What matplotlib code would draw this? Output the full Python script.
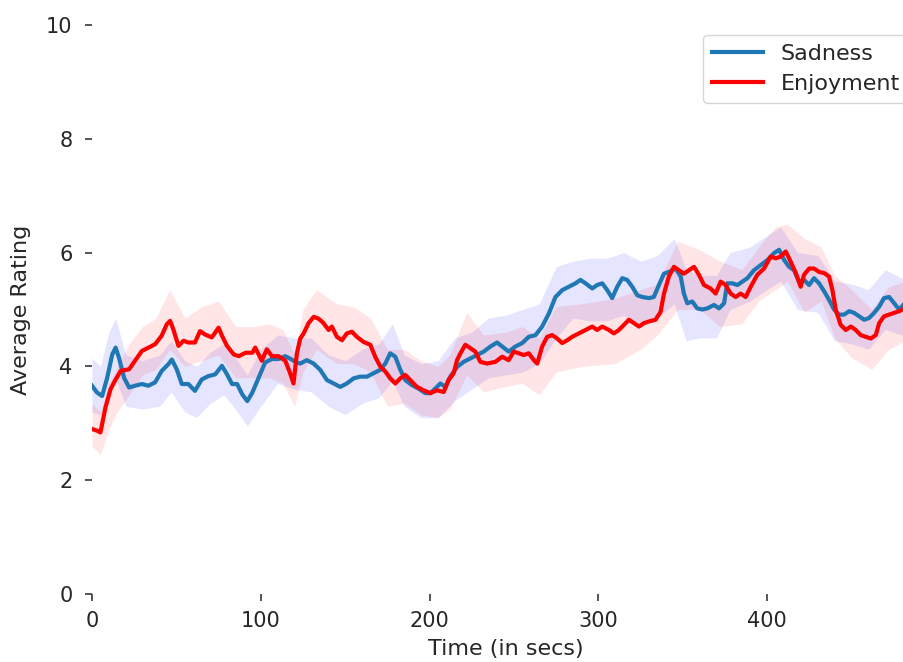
import matplotlib
matplotlib.use("Agg")
import matplotlib.pyplot as plt
import numpy as np

# ---------------- data ----------------
sad_t = [0, 3, 6, 9, 12, 14, 16, 19, 22, 25.5, 29.5, 33.4, 37.4, 41.3, 45.3, 47.3, 50.2, 53.2,
         57.1, 61, 65, 69, 73, 77, 80, 83, 86, 89, 92, 95, 98.7, 102.6, 106.6, 110.5, 114.5,
         118.4, 120.4, 123.4, 127.3, 131.3, 135.2, 139.2, 143.1, 147.1, 151, 155, 158.9, 162.9,
         166.9, 170.8, 173.8, 176.7, 179.7, 182.7, 185.6, 189.6, 193.5, 197.5, 200.5, 204.4,
         206.4, 209.3, 212.3, 216.3, 220.2, 224.2, 228.1, 232.1, 236.1, 240, 243, 246.9, 250.9,
         254.9, 258.8, 262.8, 266.7, 270.7, 274.6, 278.6, 282.5, 286.5, 289.4, 292.4, 296.4,
         299.3, 302.3, 305.3, 308.2, 311.2, 314.2, 317.1, 320.1, 323.1, 326, 330, 332.9, 335.9,
         338.9, 341.8, 345.8, 348.8, 350.7, 352.7, 355.7, 358.6, 361.6, 364.6, 368.5, 371.5,
         374.5, 376.4, 379.4, 382.4, 385.3, 388.3, 392.2, 396.2, 400.2, 404.1, 407.1, 410.1,
         413, 416, 418.9, 421.9, 424.9, 427.8, 430.8, 433.8, 436.7, 439.7, 442.7, 445.6, 448.6,
         451.6, 454.5, 457.5, 460.4, 463.4, 466.4, 469.3, 472.3, 475.3, 478.2, 481.6, 490]
sad_mean = [3.66, 3.54, 3.48, 3.80, 4.21, 4.33, 4.15, 3.80, 3.63, 3.66, 3.69, 3.66, 3.72, 3.92,
            4.04, 4.12, 3.95, 3.69, 3.69, 3.57, 3.77, 3.83, 3.86, 4.01, 3.86, 3.69, 3.69, 3.51,
            3.39, 3.54, 3.80, 4.07, 4.13, 4.13, 4.18, 4.12, 4.08, 4.05, 4.11, 4.05, 3.94, 3.76,
            3.70, 3.64, 3.70, 3.79, 3.82, 3.82, 3.88, 3.94, 4.05, 4.23, 4.17, 3.94, 3.76, 3.67,
            3.61, 3.53, 3.53, 3.64, 3.70, 3.64, 3.82, 3.99, 4.08, 4.14, 4.20, 4.26, 4.35, 4.42,
            4.35, 4.26, 4.35, 4.41, 4.52, 4.55, 4.70, 4.93, 5.22, 5.34, 5.40, 5.46, 5.52, 5.46,
            5.37, 5.43, 5.46, 5.34, 5.20, 5.40, 5.55, 5.52, 5.40, 5.25, 5.22, 5.20, 5.22, 5.43,
            5.63, 5.66, 5.72, 5.58, 5.28, 5.11, 5.14, 5.02, 5.00, 5.02, 5.08, 5.02, 5.11, 5.46,
            5.46, 5.43, 5.49, 5.55, 5.69, 5.78, 5.87, 5.99, 6.05, 5.87, 5.75, 5.69, 5.49, 5.52,
            5.43, 5.55, 5.46, 5.32, 5.17, 5.00, 4.91, 4.91, 4.97, 4.94, 4.88, 4.82, 4.85, 4.94,
            5.05, 5.20, 5.22, 5.11, 5.00, 5.11, 5.15]

enj_t = [0, 3, 5, 8, 11, 14, 17, 22, 25.5, 29.5, 33.4, 37.4, 41.3, 44.3, 46.3, 48.2, 51.2, 54.2,
         57.1, 61, 64, 67, 71, 75, 77, 80, 84, 87, 91, 95, 96.7, 100.6, 103.6, 106.6, 110.5,
         114.5, 117.4, 119.4, 121.4, 123.4, 125.4, 128.3, 131.3, 134.2, 137.2, 140.2, 142.1,
         145.1, 148.1, 151, 154, 156.9, 160.9, 164.9, 167.8, 170.8, 173.8, 176.7, 179.7, 182.7,
         185.6, 188.6, 192.5, 196.5, 200.5, 204.4, 208.4, 211.3, 214.3, 216.3, 218.3, 221.2,
         224.2, 227.1, 230.1, 234.1, 239, 243, 246.9, 249.9, 252.9, 255.8, 258.8, 261.8, 263.8,
         266.7, 269.7, 272.7, 275.6, 278.6, 281.6, 284.5, 288.5, 292.4, 296.4, 299.3, 302.3,
         306.3, 309.2, 312.2, 315.2, 318.1, 321.1, 324.1, 327, 330, 333.9, 336.9, 338.9, 341.8,
         344.8, 347.8, 350.7, 353.7, 356.7, 359.6, 362.6, 366.5, 369.5, 372.5, 375.4, 378.4,
         381.4, 384.3, 387.3, 390.3, 394.2, 398.2, 402.1, 405.1, 408.1, 411, 414, 417, 419.9,
         421.9, 424.9, 427.8, 430.8, 433.8, 436.7, 438.7, 440.7, 443.6, 446.6, 449.6, 452.5,
         455.5, 458.5, 461.4, 464.4, 466.4, 469.3, 472.3, 475.3, 478.2, 481.6, 490]
enj_mean = [2.90, 2.87, 2.84, 3.28, 3.60, 3.77, 3.92, 3.95, 4.10, 4.27, 4.33, 4.39, 4.54, 4.74,
            4.80, 4.65, 4.36, 4.45, 4.42, 4.42, 4.62, 4.56, 4.51, 4.68, 4.54, 4.36, 4.21, 4.18,
            4.24, 4.24, 4.33, 4.10, 4.30, 4.18, 4.18, 4.10, 3.88, 3.70, 4.23, 4.49, 4.58, 4.76,
            4.87, 4.84, 4.76, 4.64, 4.70, 4.52, 4.46, 4.58, 4.61, 4.52, 4.43, 4.38, 4.17, 4.00,
            3.91, 3.79, 3.70, 3.79, 3.85, 3.76, 3.64, 3.58, 3.53, 3.58, 3.55, 3.76, 3.88, 4.11,
            4.23, 4.38, 4.32, 4.26, 4.08, 4.05, 4.08, 4.17, 4.11, 4.26, 4.23, 4.20, 4.23, 4.11,
            4.05, 4.35, 4.52, 4.55, 4.49, 4.41, 4.46, 4.52, 4.58, 4.64, 4.70, 4.64, 4.70, 4.64,
            4.58, 4.64, 4.73, 4.82, 4.76, 4.70, 4.76, 4.79, 4.82, 4.96, 5.28, 5.58, 5.75, 5.69,
            5.63, 5.69, 5.75, 5.61, 5.43, 5.37, 5.28, 5.49, 5.43, 5.28, 5.22, 5.28, 5.22, 5.40,
            5.61, 5.72, 5.93, 5.90, 5.93, 6.02, 5.84, 5.64, 5.40, 5.61, 5.72, 5.72, 5.66, 5.64,
            5.58, 5.34, 4.99, 4.73, 4.64, 4.70, 4.64, 4.55, 4.52, 4.49, 4.55, 4.76, 4.88, 4.91,
            4.94, 4.97, 5.02, 5.05]

sad_band_t = [0, 5, 10, 14, 20, 30, 40, 47, 55, 62, 70, 78, 85, 92, 100, 110, 120, 130, 140,
              150, 160, 170, 178, 185, 195, 205, 215, 225, 235, 245, 255, 265, 275, 285, 295,
              305, 315, 325, 335, 345, 352, 360, 370, 378, 390, 400, 408, 418, 430, 440, 450,
              460, 470, 480, 490]
sad_lower = [3.2, 3.15, 3.6, 3.8, 3.3, 3.25, 3.3, 3.55, 3.2, 3.1, 3.35, 3.5, 3.25, 2.95, 3.3,
             3.7, 3.6, 3.55, 3.3, 3.15, 3.35, 3.45, 3.75, 3.3, 3.1, 3.1, 3.4, 3.6, 3.8, 3.85,
             3.9, 4.05, 4.5, 4.85, 4.8, 4.8, 4.9, 4.7, 4.85, 5.1, 4.45, 4.5, 4.5, 5.0, 5.15,
             5.35, 5.5, 5.0, 4.95, 4.45, 4.4, 4.3, 4.65, 4.55, 4.6]
sad_upper = [4.15, 4.0, 4.6, 4.85, 4.2, 4.1, 4.2, 4.45, 4.1, 4.0, 4.25, 4.4, 4.15, 3.85, 4.3,
             4.55, 4.5, 4.5, 4.2, 4.1, 4.3, 4.4, 4.75, 4.2, 4.05, 4.1, 4.5, 4.6, 4.85, 4.9,
             5.0, 5.1, 5.75, 5.85, 5.9, 5.9, 6.0, 5.85, 5.95, 6.25, 5.7, 5.6, 5.6, 6.0, 6.1,
             6.3, 6.45, 6.0, 5.95, 5.5, 5.45, 5.35, 5.7, 5.55, 5.6]

enj_band_t = [0, 5, 10, 15, 22, 30, 38, 46, 55, 65, 75, 85, 95, 105, 113, 120, 125, 133, 145,
              155, 165, 175, 185, 195, 205, 212, 222, 232, 245, 255, 265, 275, 290, 310, 325,
              335, 347, 360, 372, 385, 395, 405, 412, 422, 432, 440, 450, 462, 472, 482, 490]
enj_lower = [2.6, 2.45, 2.9, 3.2, 3.5, 3.85, 3.95, 4.3, 4.0, 4.1, 4.2, 3.8, 3.8, 3.8, 3.7, 3.3,
             3.9, 4.3, 4.05, 4.05, 3.9, 3.3, 3.35, 3.15, 3.1, 3.25, 3.85, 3.55, 3.65, 3.7, 3.5,
             3.9, 4.0, 4.05, 4.3, 4.55, 5.0, 5.0, 4.7, 4.75, 5.15, 5.35, 5.5, 4.95, 5.15, 4.5,
             4.15, 3.95, 4.3, 4.45, 4.5]
enj_upper = [3.35, 3.2, 3.7, 4.0, 4.4, 4.7, 4.85, 5.35, 4.85, 5.05, 5.15, 4.7, 4.7, 4.75, 4.65,
             4.2, 5.0, 5.35, 5.1, 5.05, 4.85, 4.3, 4.3, 4.1, 4.0, 4.2, 4.95, 4.55, 4.6, 4.7,
             4.5, 5.05, 5.1, 5.2, 5.35, 5.45, 6.2, 6.05, 5.85, 5.7, 6.1, 6.45, 6.5, 6.25, 6.1,
             5.6, 5.35, 5.0, 5.4, 5.5, 5.55]

x_ticks = [0, 100, 200, 300, 400]
y_ticks = [0, 2, 4, 6, 8, 10]
series_names = ["Sadness", "Enjoyment"]

# ---------------- figure ----------------
plt.rcParams['font.family'] = ['DejaVu Sans']
text_color = '#262626'

W, H = 904, 662
fig = plt.figure(figsize=(W / 100, H / 100), dpi=100)
ax_left_px, ax_right_px = 92, 919
ax_bottom_px, ax_top_px = 68, 637
ax = fig.add_axes([ax_left_px / W, ax_bottom_px / H,
                   (ax_right_px - ax_left_px) / W, (ax_top_px - ax_bottom_px) / H])

ax.fill_between(sad_band_t, sad_lower, sad_upper, color='blue', alpha=0.1, linewidth=0)
ax.fill_between(enj_band_t, enj_lower, enj_upper, color='red', alpha=0.1, linewidth=0)
ax.plot(sad_t, sad_mean, color='#1f77b4', lw=3.0, label=series_names[0])
ax.plot(enj_t, enj_mean, color='red', lw=3.0, label=series_names[1])

ax.set_xlim(0, 490)
ax.set_ylim(0, 10)
ax.set_xticks(x_ticks)
ax.set_yticks(y_ticks)
for s in ax.spines.values():
    s.set_visible(False)
ax.tick_params(axis='both', direction='out', length=5, width=1.1, color=text_color,
               labelcolor=text_color, labelsize=15)
ax.tick_params(axis='y', pad=9)
ax.tick_params(axis='x', pad=7)

ax.set_xlabel('Time (in secs)', fontsize=16, color=text_color, labelpad=6)
ax.set_ylabel('Average Rating', fontsize=16, color=text_color, labelpad=11)

leg = ax.legend(loc='upper right', fontsize=16, handlelength=2.3, frameon=True,
                fancybox=True, borderaxespad=0.45, borderpad=0.4, labelspacing=0.45)
leg.get_frame().set_edgecolor('#cccccc')
for t in leg.get_texts():
    t.set_color(text_color)

fig.savefig('out.png', dpi=100)
